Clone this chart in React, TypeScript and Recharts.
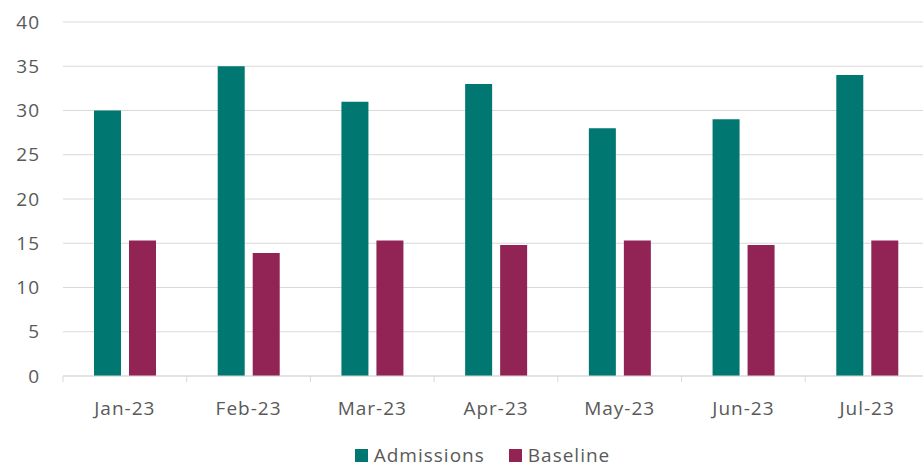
import { BarChart, Bar, XAxis, YAxis, CartesianGrid, Legend } from 'recharts';

const months = ['Jan-23', 'Feb-23', 'Mar-23', 'Apr-23', 'May-23', 'Jun-23', 'Jul-23'];
const admissions = [30, 35, 31, 33, 28, 29, 34];
const baseline = [15.3, 13.9, 15.3, 14.8, 15.3, 14.8, 15.3];
const yTicks = [0, 5, 10, 15, 20, 25, 30, 35, 40];

const TEAL = '#007770';
const MAROON = '#922455';
const TEXT = '#595959';
const GRID = '#d9d9d9';
const FONT = '"Open Sans", sans-serif';

const CHART_W = 935;
const CHART_H = 468;
const PLOT_LEFT = 63;
const PLOT_RIGHT = 929;
const STEP = (PLOT_RIGHT - PLOT_LEFT) / months.length;

const data = months.map((m, i) => ({
  month: m,
  Admissions: admissions[i],
  Baseline: baseline[i],
}));

function MonthTick(props: any) {
  const { x, y, payload } = props;
  const bx = x - STEP / 2;
  return (
    <g>
      <line x1={bx} x2={bx} y1={y} y2={y + 6} stroke={GRID} strokeWidth={1} />
      <text
        x={x}
        y={y + 32}
        dy="0.35em"
        textAnchor="middle"
        fill={TEXT}
        fontSize={19}
        fontFamily={FONT}
        letterSpacing={1}
      >
        {payload.value}
      </text>
    </g>
  );
}

function LegendContent() {
  const items = [
    { name: 'Admissions', color: TEAL },
    { name: 'Baseline', color: MAROON },
  ];
  return (
    <div
      style={{
        height: 34,
        paddingTop: 8,
        paddingLeft: 36,
        boxSizing: 'border-box',
        display: 'flex',
        justifyContent: 'center',
        alignItems: 'flex-start',
        gap: 24,
        fontFamily: FONT,
        fontSize: 19,
        letterSpacing: 1,
        color: TEXT,
        lineHeight: '26px',
      }}
    >
      {items.map((it) => (
        <span key={it.name} style={{ display: 'flex', alignItems: 'center' }}>
          <span
            style={{ width: 13, height: 13, background: it.color, marginRight: 6, display: 'inline-block' }}
          />
          {it.name}
        </span>
      ))}
    </div>
  );
}

export default function App() {
  return (
    <div
      style={{
        position: 'absolute',
        left: 0,
        top: 0,
        width: 923,
        height: CHART_H,
        overflow: 'hidden',
        background: '#fff',
      }}
    >
      <BarChart
        width={CHART_W}
        height={CHART_H}
        data={data}
        margin={{ top: 22, right: CHART_W - PLOT_RIGHT, bottom: 0, left: 0 }}
        barSize={27}
        barGap={8}
      >
        <CartesianGrid vertical={false} stroke={GRID} strokeWidth={1} />
        <XAxis
          dataKey="month"
          height={58}
          tickSize={0}
          tickMargin={0}
          tickLine={false}
          axisLine={{ stroke: GRID }}
          tick={<MonthTick />}
          interval={0}
        />
        <YAxis
          width={PLOT_LEFT}
          domain={[0, 40]}
          ticks={yTicks}
          axisLine={false}
          tickLine={false}
          tickSize={0}
          tickMargin={23}
          tick={{ fill: TEXT, fontSize: 19, fontFamily: FONT, letterSpacing: 1 }}
        />
        <Legend verticalAlign="bottom" content={<LegendContent />} />
        <Bar dataKey="Admissions" fill={TEAL} isAnimationActive={false} />
        <Bar dataKey="Baseline" fill={MAROON} isAnimationActive={false} />
      </BarChart>
    </div>
  );
}
